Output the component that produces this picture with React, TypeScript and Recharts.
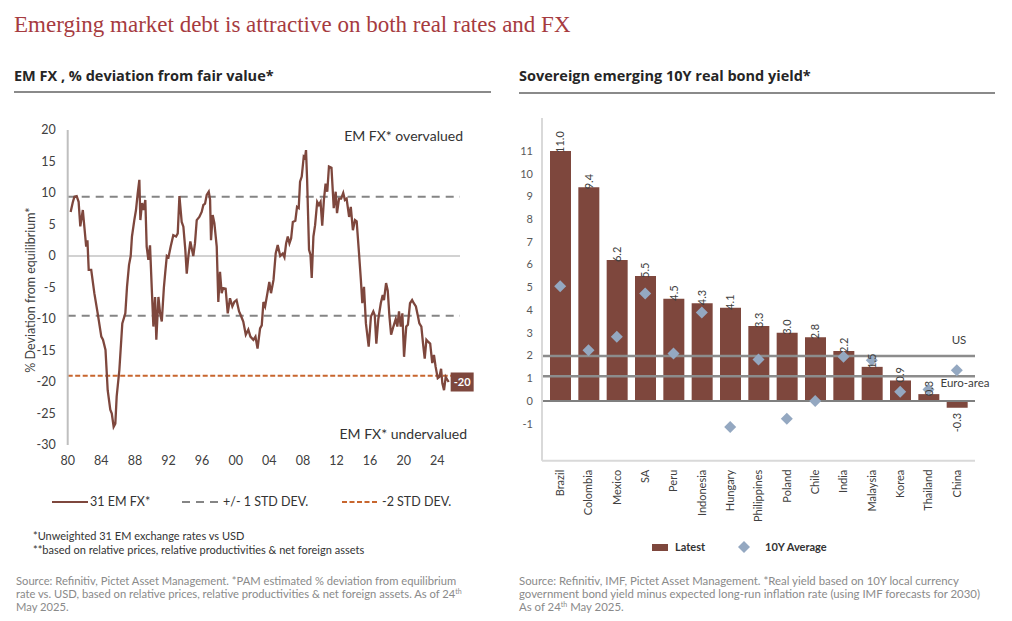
import {
  Bar,
  ComposedChart,
  LabelList,
  Line,
  LineChart,
  ReferenceLine,
  Scatter,
  XAxis,
  YAxis,
} from "recharts";

// EM FX % deviation from fair value (decimal year, value)
const fxYears = [
  1980.35, 1980.6, 1980.8, 1981.07, 1981.3, 1981.5, 1981.8, 1982.0, 1982.2, 1982.35,
  1982.5, 1982.8, 1983.17, 1983.57, 1984.0, 1984.2, 1984.5, 1984.76, 1985.07, 1985.25,
  1985.47, 1985.67, 1985.83, 1986.15, 1986.5, 1986.86, 1987.06, 1987.3, 1987.5, 1987.65,
  1987.93, 1988.13, 1988.33, 1988.53, 1988.65, 1988.85, 1989.05, 1989.24, 1989.4, 1989.6,
  1989.8, 1990.0, 1990.2, 1990.4, 1990.55, 1990.8, 1991.0, 1991.2, 1991.45, 1991.6,
  1991.8, 1992.0, 1992.26, 1992.57, 1992.9, 1993.1, 1993.3, 1993.57, 1993.77, 1994.0,
  1994.17, 1994.37, 1994.6, 1994.95, 1995.15, 1995.36, 1995.67, 1995.95, 1996.15, 1996.35,
  1996.55, 1996.79, 1996.95, 1997.06, 1997.26, 1997.46, 1997.74, 1997.93, 1998.13, 1998.33,
  1998.5, 1998.8, 1999.05, 1999.32, 1999.6, 1999.83, 2000.1, 2000.4, 2000.6, 2000.9,
  2001.2, 2001.5, 2001.75, 2002.1, 2002.35, 2002.6, 2002.9, 2003.1, 2003.3, 2003.5,
  2003.8, 2004.0, 2004.2, 2004.5, 2004.76, 2005.0, 2005.3, 2005.6, 2005.8, 2006.0,
  2006.2, 2006.4, 2006.6, 2006.8, 2007.1, 2007.3, 2007.5, 2007.66, 2007.86, 2008.1,
  2008.25, 2008.37, 2008.5, 2008.73, 2008.9, 2009.05, 2009.25, 2009.45, 2009.7, 2009.9,
  2010.1, 2010.3, 2010.5, 2010.7, 2010.9, 2011.1, 2011.4, 2011.67, 2011.9, 2012.06,
  2012.3, 2012.55, 2012.8, 2013.0, 2013.2, 2013.5, 2013.7, 2013.95, 2014.2, 2014.4,
  2014.68, 2014.9, 2015.07, 2015.27, 2015.5, 2015.83, 2016.1, 2016.38, 2016.55, 2016.74,
  2016.98, 2017.27, 2017.5, 2017.65, 2017.9, 2018.1, 2018.3, 2018.5, 2018.77, 2019.05,
  2019.24, 2019.44, 2019.64, 2019.84, 2020.04, 2020.3, 2020.5, 2020.75, 2021.0, 2021.2,
  2021.45, 2021.7, 2021.86, 2022.1, 2022.3, 2022.5, 2022.7, 2022.9, 2023.15, 2023.4,
  2023.6, 2023.8, 2024.05, 2024.25, 2024.45, 2024.6, 2024.8, 2025.0, 2025.35,
];
const fxDeviation = [
  7.0, 8.5, 9.4, 9.5, 8.6, 4.7, 7.3, 4.4, 1.5, 2.5,
  -2.2, -2.2, -5.9, -9.1, -12.8, -13.3, -14.9, -21.3, -24.4, -25.0,
  -27.1, -26.6, -22.3, -18.1, -10.7, -9.1, -4.9, -1.4, 0.0, 3.1,
  5.7, 7.3, 9.9, 12.1, 5.7, 8.4, 7.3, 8.9, 1.5, -0.6,
  1.7, -4.9, -11.2, -6.5, -13.3, -6.5, -9.1, -10.4, -5.0, -2.8,
  0.0, -0.2, 1.5, 3.3, 3.1, 3.6, 9.5, 5.4, 4.65, 1.0,
  -2.8, 0.0, 2.3, 0.0, 2.0, 5.7, 6.2, 7.0, 8.1, 8.3,
  9.7, 10.2, 8.9, 2.5, 6.5, 5.2, 1.5, -7.3, -2.5, -5.9,
  -5.1, -5.2, -9.1, -6.7, -8.0, -7.3, -7.0, -8.8, -9.4, -10.4,
  -12.5, -11.7, -12.8, -13.3, -12.8, -14.7, -11.5, -11.0, -7.3, -8.0,
  -5.7, -4.1, -5.9, -3.8, 0.4, 1.75, 0.0, 0.4, -0.2, 2.0,
  3.1, 2.0, 2.8, 5.4, 5.6, 7.8, 7.6, 11.8, 12.6, 15.8,
  15.6, 16.8, 12.1, 1.0, 0.2, -3.5, 3.1, 4.9, 8.6, 8.1,
  8.6, 4.8, 8.9, 11.5, 10.2, 14.2, 14.0, 7.6, 10.2, 6.8,
  9.1, 9.1, 10.0, 8.9, 9.1, 6.2, 7.8, 4.1, 5.7, 5.5,
  0.4, -3.8, -7.5, -4.9, -10.7, -14.4, -9.6, -8.8, -9.4, -13.9,
  -10.0, -7.5, -6.2, -7.0, -4.3, -5.5, -9.6, -12.5, -11.2, -10.0,
  -11.2, -8.8, -11.2, -9.1, -16.0, -11.2, -10.9, -7.5, -7.0, -7.5,
  -8.0, -9.6, -10.7, -11.2, -13.9, -16.3, -13.3, -13.6, -13.9, -17.0,
  -15.7, -17.6, -19.4, -19.2, -17.9, -20.2, -21.3, -19.2, -20.0,
];
const fxYearTicks = [1980, 1984, 1988, 1992, 1996, 2000, 2004, 2008, 2012, 2016, 2020, 2024];
const fxValueTicks = [20, 15, 10, 5, 0, -5, -10, -15, -20, -25, -30];
const oneStdDevUpper = 9.4;
const oneStdDevLower = -9.5;
const twoStdDevLower = -19;
const latestFxLabel = "-20";

// Sovereign emerging 10Y real bond yield
const countries = [
  "Brazil", "Colombia", "Mexico", "SA", "Peru", "Indonesia", "Hungary", "Philippines",
  "Poland", "Chile", "India", "Malaysia", "Korea", "Thailand", "China",
];
const latestYield = [11.0, 9.4, 6.2, 5.5, 4.5, 4.3, 4.1, 3.3, 3.0, 2.8, 2.2, 1.5, 0.9, 0.3, -0.3];
const avgYield10y = [5.05, 2.23, 2.82, 4.73, 2.09, 3.89, -1.15, 1.82, -0.78, 0.0, 1.94, 1.79, 0.4, 0.5, 1.35];
const yieldTicks = [-1, 0, 1, 2, 3, 4, 5, 6, 7, 8, 9, 10, 11];
const usRealYield = 1.98;
const euroRealYield = 1.09;

const BROWN = "#7e473d";
const DIAMOND = "#94a8c1";
const ORANGE = "#c8662e";
const GREY_DASH = "#858585";

const fxData = fxYears.map((t, i) => ({ t, v: fxDeviation[i] }));
const yieldData = countries.map((name, i) => ({ name, latest: latestYield[i], avg: avgYield10y[i] }));
const lastFx = fxData.length - 1;

const LastPointTag = (props: any) => {
  const { cx, cy, index } = props;
  if (index !== lastFx) return <g key={`d${index}`} />;
  return (
    <g key={`d${index}`}>
      <rect x={cx + 2} y={cy - 9.5} width={23} height={19} fill={BROWN} />
      <text x={cx + 13.5} y={cy} dy="0.35em" textAnchor="middle" fill="#fff" fontSize={11} fontWeight={700}>
        {latestFxLabel}
      </text>
    </g>
  );
};

const CountryTick = (props: any) => {
  const { x, y, payload } = props;
  return (
    <text
      x={x}
      y={y + 1}
      dy="0.35em"
      transform={`rotate(-90, ${x}, ${y + 1})`}
      textAnchor="end"
      fontSize={11}
      fill="#404040"
    >
      {payload.value}
    </text>
  );
};

const BarValueLabel = (props: any) => {
  const vb = props.viewBox ?? props;
  const { x, y, width, height } = vb;
  const value = Number(props.value);
  const cx = x + width / 2;
  const top = Math.min(y, y + height);
  const bottom = Math.max(y, y + height);
  const ay = value >= 0 ? top + 2 : bottom + 5;
  return (
    <text
      x={cx}
      y={ay}
      dy="0.35em"
      transform={`rotate(-90, ${cx}, ${ay})`}
      textAnchor={value >= 0 ? "start" : "end"}
      fontSize={11}
      fill="#404040"
    >
      {value.toFixed(1)}
    </text>
  );
};

const Diamond = (props: any) => {
  const { cx, cy } = props;
  const r = 6;
  return <polygon points={`${cx},${cy - r} ${cx + r},${cy} ${cx},${cy + r} ${cx - r},${cy}`} fill={DIAMOND} />;
};

const refLabel = (text: string, dx: number, dy: number) => (props: any) => {
  const vb = props.viewBox ?? {};
  return (
    <text x={vb.x + vb.width + dx} y={vb.y + dy} textAnchor="middle" fontSize={11.5} fill="#404040">
      {text}
    </text>
  );
};

const abs = (left: number, top: number, extra: React.CSSProperties = {}): React.CSSProperties => ({
  position: "absolute",
  left,
  top,
  whiteSpace: "nowrap",
  ...extra,
});

const Th = () => (
  <span style={{ fontSize: 7, position: "relative", top: -4, lineHeight: 0 }}>th</span>
);

const subtitleStyle: React.CSSProperties = {
  fontFamily: "'Open Sans', sans-serif",
  fontSize: 14.5,
  fontWeight: 700,
  lineHeight: "18px",
  color: "#262626",
};

export default function App() {
  return (
    <div
      style={{
        position: "fixed",
        left: 0,
        top: 0,
        width: 1012,
        height: 621,
        background: "#fff",
        overflow: "hidden",
        fontFamily: "Lato, 'Open Sans', sans-serif",
        color: "#333",
      }}
    >
      <div style={abs(14, 12, { fontFamily: "'Liberation Serif', serif", fontSize: 23, lineHeight: "26px", color: "#a63b3f" })}>
        Emerging market debt is attractive on both real rates and FX
      </div>

      <div style={abs(14, 67, subtitleStyle)}>EM FX , % deviation from fair value*</div>
      <div style={abs(14, 91, { width: 477, height: 2, background: "#8a8a8a" })} />
      <div style={abs(519, 67, subtitleStyle)}>Sovereign emerging 10Y real bond yield*</div>
      <div style={abs(519, 92, { width: 476, height: 2, background: "#8a8a8a" })} />

      {/* Left chart */}
      <div style={abs(0, 0)}>
        <LineChart width={500} height={480} data={fxData} margin={{ top: 130, right: 40, left: 27.7, bottom: 5 }}>
          <XAxis
            type="number"
            dataKey="t"
            domain={[1980, 2026.7]}
            ticks={fxYearTicks}
            tickFormatter={(y: number) => String(y).slice(2)}
            axisLine={false}
            tickLine={false}
            tickMargin={5}
            height={30}
            tick={{ fontSize: 12.5, fill: "#404040" }}
          />
          <YAxis
            type="number"
            domain={[-30, 20]}
            ticks={fxValueTicks}
            width={40}
            tickLine={false}
            tickMargin={6}
            axisLine={{ stroke: "#bfbfbf", strokeWidth: 2 }}
            tick={{ fontSize: 12.5, fill: "#404040" }}
          />
          <ReferenceLine y={0} stroke="#a6a6a6" strokeWidth={1.2} />
          <ReferenceLine y={oneStdDevUpper} stroke={GREY_DASH} strokeWidth={2} strokeDasharray="8 6" />
          <ReferenceLine y={oneStdDevLower} stroke={GREY_DASH} strokeWidth={2} strokeDasharray="8 6" />
          <ReferenceLine y={twoStdDevLower} stroke={ORANGE} strokeWidth={2} strokeDasharray="5 2.5" />
          <Line
            type="linear"
            dataKey="v"
            stroke={BROWN}
            strokeWidth={2.3}
            dot={LastPointTag}
            activeDot={false}
            isAnimationActive={false}
          />
        </LineChart>
      </div>

      <div style={abs(30, 290, { transform: "translate(-50%, -50%) rotate(-90deg)", fontSize: 12.5, color: "#404040" })}>
        % Deviation from equilibrium*
      </div>
      <div style={abs(463, 128, { transform: "translateX(-100%)", fontSize: 14, lineHeight: "16px", color: "#333" })}>
        EM FX* overvalued
      </div>
      <div style={abs(467, 426, { transform: "translateX(-100%)", fontSize: 14, lineHeight: "16px", color: "#333" })}>
        EM FX* undervalued
      </div>

      {/* Left legend */}
      <svg style={abs(0, 0)} width={500} height={520}>
        <line x1={52} x2={88} y1={502} y2={502} stroke={BROWN} strokeWidth={2} />
        <line x1={182} x2={218} y1={502} y2={502} stroke={GREY_DASH} strokeWidth={2} strokeDasharray="8 6" />
        <line x1={342} x2={378} y1={502} y2={502} stroke={ORANGE} strokeWidth={2} strokeDasharray="5 2.5" />
      </svg>
      <div style={abs(90, 494, { fontSize: 12.5, lineHeight: "16px" })}>31 EM FX*</div>
      <div style={abs(223, 494, { fontSize: 12.5, lineHeight: "16px" })}>+/- 1 STD DEV.</div>
      <div style={abs(382, 494, { fontSize: 12.5, lineHeight: "16px" })}>-2 STD DEV.</div>

      <div style={abs(33, 529, { fontSize: 11, lineHeight: "13.5px", color: "#333" })}>
        *Unweighted 31 EM exchange rates vs USD
        <br />
        **based on relative prices, relative productivities &amp; net foreign assets
      </div>

      <div style={abs(16, 574, { fontSize: 11.2, lineHeight: "13px", color: "#8a8a8a" })}>
        Source: Refinitiv, Pictet Asset Management. *PAM estimated % deviation from equilibrium
        <br />
        rate vs. USD, based on relative prices, relative productivities &amp; net foreign assets. As of 24<Th />
        <br />
        May 2025.
      </div>

      {/* Right chart */}
      <div style={abs(500, 0)}>
        <ComposedChart width={500} height={540} data={yieldData} margin={{ top: 118, right: 25, left: 12, bottom: 49.3 }}>
          <XAxis
            dataKey="name"
            interval={0}
            tickLine={false}
            axisLine={{ stroke: "#d9d9d9", strokeWidth: 2 }}
            padding={{ left: 4, right: 4 }}
            height={30}
            tick={<CountryTick />}
          />
          <YAxis
            type="number"
            domain={[-2.63, 12.45]}
            ticks={yieldTicks}
            width={30}
            tickLine={false}
            tickMargin={3}
            axisLine={{ stroke: "#d9d9d9", strokeWidth: 2 }}
            tick={{ fontSize: 11, fill: "#595959" }}
          />
          <Bar dataKey="latest" fill={BROWN} barSize={21} isAnimationActive={false}>
            <LabelList dataKey="latest" content={BarValueLabel} />
          </Bar>
          <ReferenceLine y={0} stroke="#7f7f7f" strokeWidth={2} />
          <ReferenceLine y={usRealYield} stroke="#8c8c8c" strokeWidth={2.5} label={refLabel("US", -16, -12)} />
          <ReferenceLine y={euroRealYield} stroke="#8c8c8c" strokeWidth={2.5} label={refLabel("Euro-area", -10, 11)} />
          <Scatter dataKey="avg" fill={DIAMOND} shape={Diamond} isAnimationActive={false} />
        </ComposedChart>
      </div>

      {/* Right legend */}
      <svg style={abs(640, 538)} width={120} height={20}>
        <rect x={12} y={6} width={16} height={7} fill={BROWN} />
        <polygon points="104,3 110,9 104,15 98,9" fill={DIAMOND} />
      </svg>
      <div style={abs(675, 539, { fontSize: 11, fontWeight: 700, lineHeight: "15px", color: "#333" })}>Latest</div>
      <div style={abs(765, 539, { fontSize: 11, fontWeight: 700, lineHeight: "15px", color: "#333" })}>10Y Average</div>

      <div style={abs(519, 574, { fontSize: 11.4, lineHeight: "13px", color: "#8a8a8a" })}>
        Source: Refinitiv, IMF, Pictet Asset Management. *Real yield based on 10Y local currency
        <br />
        government bond yield minus expected long-run inflation rate (using IMF forecasts for 2030)
        <br />
        As of 24<Th /> May 2025.
      </div>
    </div>
  );
}
